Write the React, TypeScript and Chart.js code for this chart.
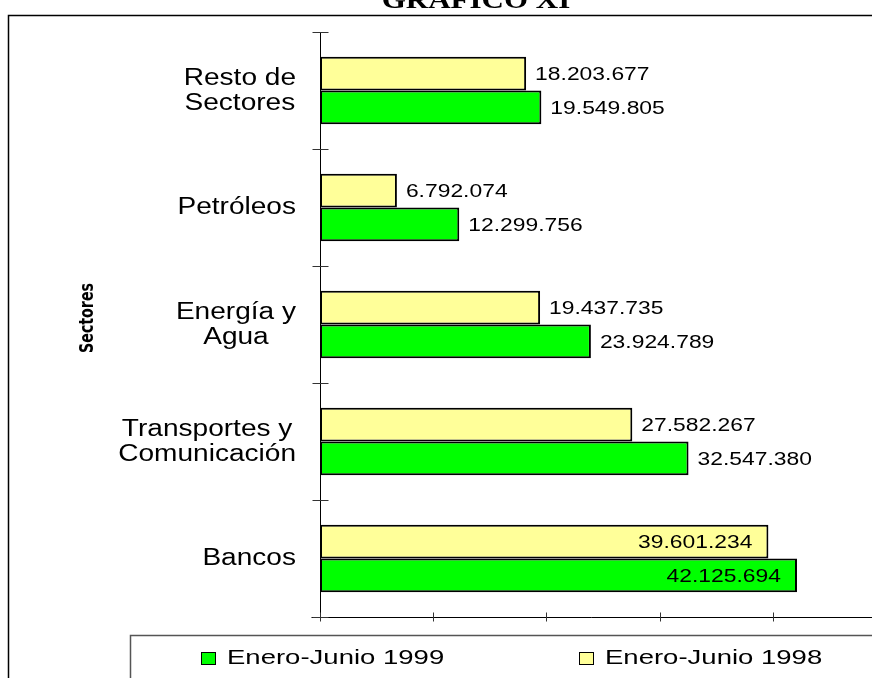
import React, { useEffect, useRef } from "react";
import { Chart, registerables } from "chart.js";

Chart.register(...registerables);

// ---- data ----
const titleText = "GRAFICO XI";
const axisTitle = "Sectores";
const categories: string[][] = [
  ["Resto de", "Sectores"],
  ["Petróleos"],
  ["Energía y", "Agua"],
  ["Transportes y", "Comunicación"],
  ["Bancos"],
];
const seriesNames = ["Enero-Junio 1998", "Enero-Junio 1999"];
const values1998 = [18203677, 6792074, 19437735, 27582267, 39601234];
const values1999 = [19549805, 12299756, 23924789, 32547380, 42125694];
const xTickValues = [0, 10000000, 20000000, 30000000, 40000000];
const xAxisMax = 48750000;
const colors = ["#FFFF99", "#00FF00"];

const fmt = (v: number) => String(v).replace(/\B(?=(\d{3})+(?!\d))/g, ".");

function drawScaledText(
  ctx: CanvasRenderingContext2D,
  text: string,
  x: number,
  baseline: number,
  font: string,
  sx: number,
  align: "left" | "right" | "center"
) {
  ctx.save();
  ctx.font = font;
  ctx.textAlign = "left";
  ctx.textBaseline = "alphabetic";
  const w = ctx.measureText(text).width * sx;
  const left = align === "left" ? x : align === "right" ? x - w : x - w / 2;
  ctx.translate(left, baseline);
  ctx.scale(sx, 1);
  ctx.fillStyle = "#000";
  ctx.fillText(text, 0, 0);
  ctx.restore();
  return w;
}

const decorPlugin = {
  id: "decor",
  afterDraw(chart: any) {
    const ctx: CanvasRenderingContext2D = chart.ctx;
    const xs = chart.scales.x;
    const ys = chart.scales.y;
    const area = chart.chartArea;
    const W = chart.width;

    ctx.save();
    // outer frame
    ctx.strokeStyle = "#000";
    ctx.lineWidth = 1.5;
    ctx.strokeRect(8.5, 15.5, W + 20, 800);

    // title
    drawScaledText(ctx, titleText, 476, 8, "bold 25px 'Liberation Serif'", 1.24, "center");

    // axis lines
    const x0 = Math.round(xs.getPixelForValue(0)) + 0.5;
    const yBottom = Math.round(area.bottom) + 0.5;
    const yTop = Math.round(area.top) + 0.5;
    ctx.strokeStyle = "#000";
    ctx.lineWidth = 1;
    ctx.beginPath();
    ctx.moveTo(x0, yTop);
    ctx.lineTo(x0, yBottom);
    ctx.moveTo(x0 - 9, yBottom);
    ctx.lineTo(W, yBottom);
    ctx.stroke();

    // y ticks at category boundaries
    ctx.strokeStyle = "#333";
    ctx.beginPath();
    for (let i = 0; i <= categories.length; i++) {
      const y = Math.round(ys.getPixelForValue(i - 0.5)) + 0.5;
      ctx.moveTo(x0 - 8, y);
      ctx.lineTo(x0 + 8, y);
    }
    // x ticks
    for (const v of xTickValues) {
      const x = Math.round(xs.getPixelForValue(v)) + 0.5;
      ctx.moveTo(x, yBottom - 5);
      ctx.lineTo(x, yBottom + 4);
    }
    ctx.stroke();

    // category labels
    const catSize = 23;
    const catFont = `${catSize}px 'Liberation Sans'`;
    const catSx = 1.22;
    const lineH = 25;
    const rightEdge = 296;
    categories.forEach((lines, i) => {
      const cy = ys.getPixelForValue(i);
      ctx.font = catFont;
      const maxW = Math.max(...lines.map((l) => ctx.measureText(l).width * catSx));
      const cx = rightEdge - maxW / 2;
      const n = lines.length;
      lines.forEach((l, k) => {
        const mid = cy + (k - (n - 1) / 2) * lineH - 1.5;
        drawScaledText(ctx, l, cx, mid + 0.358 * catSize, catFont, catSx, "center");
      });
    });

    // value labels
    const valFont = "18px 'Liberation Sans'";
    const valSx = 1.27;
    chart.data.datasets.forEach((ds: any, d: number) => {
      const meta = chart.getDatasetMeta(d);
      meta.data.forEach((bar: any, i: number) => {
        const text = fmt(ds.data[i]);
        ctx.font = valFont;
        const tw = ctx.measureText(text).width * valSx;
        const base = bar.y + 0.358 * 18;
        if (bar.x + 9 + tw > W) {
          drawScaledText(ctx, text, bar.x - 16, base, valFont, valSx, "right");
        } else {
          drawScaledText(ctx, text, bar.x + 9, base, valFont, valSx, "left");
        }
      });
    });

    // axis title (rotated)
    ctx.save();
    ctx.translate(88, 318);
    ctx.rotate(-Math.PI / 2);
    ctx.font = "bold 20px 'DejaVu Sans Condensed'";
    ctx.scale(0.79, 1);
    ctx.textAlign = "center";
    ctx.textBaseline = "middle";
    ctx.fillStyle = "#000";
    ctx.fillText(axisTitle, 0, 0);
    ctx.restore();

    // legend box
    ctx.strokeStyle = "#555";
    ctx.lineWidth = 1.5;
    ctx.strokeRect(130.5, 635.5, W + 20, 100);

    // legend entries (1999 first)
    const legendOrder = [1, 0];
    const legendX = [201, 579];
    const legFont = "21px 'Liberation Sans'";
    legendOrder.forEach((d, k) => {
      const ds = chart.data.datasets[d];
      const lx = legendX[k];
      ctx.fillStyle = ds.backgroundColor;
      ctx.fillRect(lx, 652, 14, 12);
      ctx.strokeStyle = "#000";
      ctx.lineWidth = 1;
      ctx.strokeRect(lx + 0.5, 652.5, 14, 12);
      drawScaledText(ctx, ds.label, lx + 26, 664, legFont, 1.31, "left");
    });

    ctx.restore();
  },
};

export default function App() {
  const ref = useRef<HTMLCanvasElement | null>(null);
  useEffect(() => {
    if (!ref.current) return;
    const chart = new Chart(ref.current, {
      type: "bar",
      data: {
        labels: categories.map((c) => c.join(" ")),
        datasets: [
          {
            label: seriesNames[0],
            data: values1998,
            backgroundColor: colors[0],
            borderColor: "#000",
            borderWidth: 2,
            borderSkipped: false,
          },
          {
            label: seriesNames[1],
            data: values1999,
            backgroundColor: colors[1],
            borderColor: "#000",
            borderWidth: 2,
            borderSkipped: false,
          },
        ],
      },
      options: {
        indexAxis: "y",
        responsive: false,
        animation: false,
        devicePixelRatio: 1,
        layout: { padding: { left: 320, top: 32, right: 0, bottom: 61 } },
        datasets: { bar: { categoryPercentage: 0.575, barPercentage: 1 } },
        scales: {
          x: { display: false, min: 0, max: xAxisMax },
          y: { display: false, offset: true },
        },
        plugins: {
          legend: { display: false },
          title: { display: false },
          tooltip: { enabled: false },
        },
      },
      plugins: [decorPlugin],
    } as any);
    return () => chart.destroy();
  }, []);
  return (
    <div style={{ position: "absolute", left: 0, top: 0, width: 872, height: 678, overflow: "hidden", background: "#fff" }}>
      <canvas ref={ref} width={872} height={678} style={{ width: 872, height: 678, display: "block" }} />
    </div>
  );
}
